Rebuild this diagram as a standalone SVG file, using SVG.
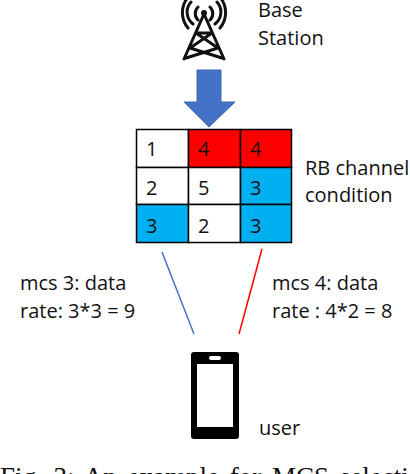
<svg xmlns="http://www.w3.org/2000/svg" width="410" height="474" viewBox="0 0 410 474">
<style>
text{font-family:"Open Sans","Liberation Sans",sans-serif;font-size:20px;fill:#111}
.cell{stroke:#000;stroke-width:1.5}
.w{fill:#fff}.r{fill:#f00}.b{fill:#00b0f0}
.tw{fill:none;stroke:#111;stroke-width:3;stroke-linecap:round;stroke-linejoin:round}
</style>
<rect width="410" height="474" fill="#fff"/>
<g id="tower">
<circle cx="204" cy="13" r="3" fill="#111"/>
<path class="tw" d="M204 14L184 59M204 14L224 59M196 33L218 48L186 58M212 33L190 48L222 58M196 33H212"/>
<path class="tw" d="M198 20A9 9 0 0 1 198 7M210 20A9 9 0 0 0 210 7M193 24A15 15 0 0 1 191 2M215 24A15 15 0 0 0 217 2M188 28A24 24 0 0 1 186 0M220 28A24 24 0 0 0 222 0" stroke-width="2.5"/>
</g>
<text x="258" y="17">Base</text>
<text x="258" y="45">Station</text>
<path id="arrow" d="M197 70H221V102H235L209 127L184 102H197Z" fill="#4472c4" stroke="#3f68b5"/>
<g id="grid">
<rect class="cell w" x="136.500" y="129.500" width="52" height="38"/>
<rect class="cell r" x="188.500" y="129.500" width="52" height="38"/>
<rect class="cell r" x="240.500" y="129.500" width="51" height="38"/>
<rect class="cell w" x="136.500" y="167.500" width="52" height="37"/>
<rect class="cell w" x="188.500" y="167.500" width="52" height="37"/>
<rect class="cell b" x="240.500" y="167.500" width="51" height="37"/>
<rect class="cell b" x="136.500" y="204.500" width="52" height="38"/>
<rect class="cell w" x="188.500" y="204.500" width="52" height="38"/>
<rect class="cell b" x="240.500" y="204.500" width="51" height="38"/>
<text x="146" y="156">1</text><text x="198" y="156">4</text><text x="250" y="156">4</text>
<text x="146" y="195">2</text><text x="198" y="195">5</text><text x="250" y="195">3</text>
<text x="146" y="233">3</text><text x="198" y="233">2</text><text x="250" y="233">3</text>
</g>
<text x="305" y="175">RB channel</text>
<text x="305" y="202">condition</text>
<g id="connectors">
<line x1="162" y1="252" x2="194" y2="334" stroke="#4472c4" stroke-width="1.500"/>
<line x1="262" y1="249" x2="239" y2="334" stroke="#f00" stroke-width="1.500"/>
</g>
<text x="20" y="290">mcs 3: data</text>
<text x="20" y="318">rate: 3*3 = 9</text>
<text x="272" y="290">mcs 4: data</text>
<text x="272" y="318">rate : 4*2 = 8</text>
<g id="phone">
<rect x="191" y="352" width="48" height="87" rx="3" fill="#000"/>
<rect x="197" y="364" width="36" height="63" fill="#fff"/>
<rect x="209" y="356" width="12" height="4" rx="2" fill="#fff"/>
</g>
<text x="259" y="435">user</text>
<text x="0" y="486" style="font-family:'Liberation Serif',serif;font-size:27px;word-spacing:4px">Fig. 3: An example for MCS selection</text>
</svg>
